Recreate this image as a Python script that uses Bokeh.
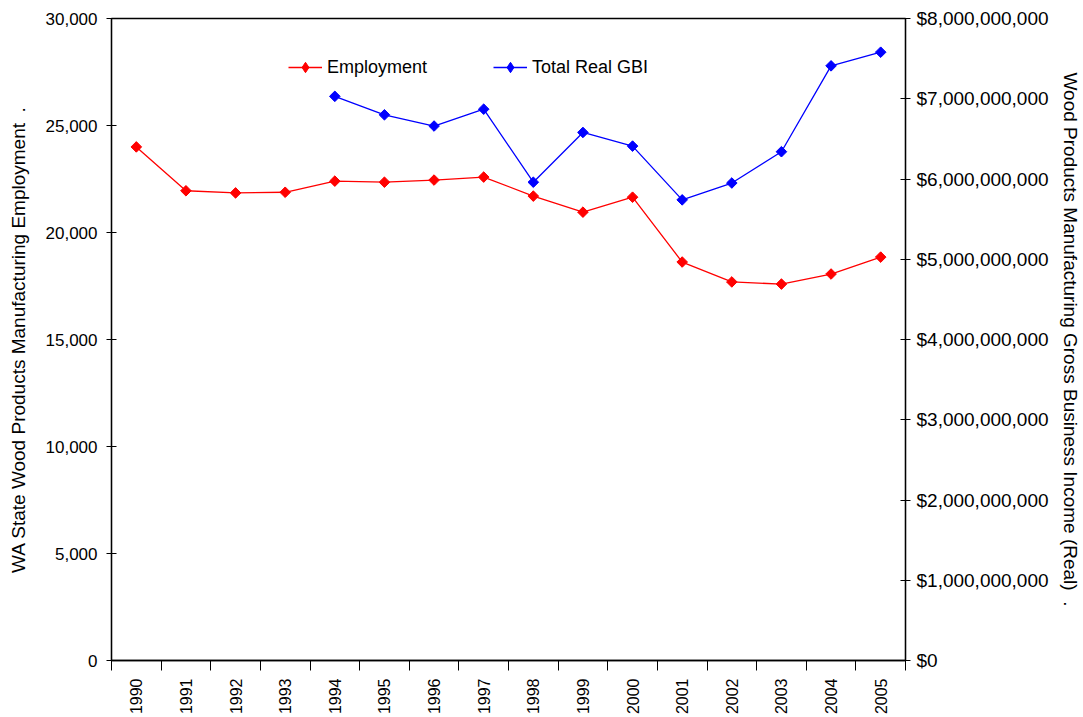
from bokeh.plotting import figure
from bokeh.models import (Range1d, LinearAxis, FixedTicker, NumeralTickFormatter,
                          Legend, LegendItem, ColumnDataSource)
from bokeh.embed import file_html
from bokeh.resources import INLINE
import math

years = ["1990", "1991", "1992", "1993", "1994", "1995", "1996", "1997",
         "1998", "1999", "2000", "2001", "2002", "2003", "2004", "2005"]
employment = [24000, 21950, 21850, 21880, 22400, 22350, 22450, 22590,
              21700, 20950, 21650, 18620, 17690, 17590, 18060, 18850]
gbi_years = ["1994", "1995", "1996", "1997", "1998", "1999", "2000", "2001",
             "2002", "2003", "2004", "2005"]
gbi = [7.03e9, 6.80e9, 6.66e9, 6.87e9, 5.96e9, 6.58e9, 6.41e9, 5.74e9,
       5.95e9, 6.34e9, 7.41e9, 7.58e9]

left_ticks = [0, 5000, 10000, 15000, 20000, 25000, 30000]
right_ticks = [0, 1e9, 2e9, 3e9, 4e9, 5e9, 6e9, 7e9, 8e9]

FONT = "Liberation Sans"

p = figure(width=1083, height=717, output_backend="svg", toolbar_location=None,
           x_range=Range1d(0, len(years)), y_range=Range1d(0, 30000),
           min_border_left=111, min_border_right=176, min_border_top=18,
           min_border_bottom=56)
p.extra_y_ranges = {"gbi": Range1d(0, 8e9)}
p.xgrid.visible = False
p.ygrid.visible = False
p.outline_line_color = "black"
p.outline_line_width = 1.3
p.background_fill_color = "white"
p.border_fill_color = "white"

emp_x = [years.index(y) + 0.5 for y in years]
gbi_x = [years.index(y) + 0.5 for y in gbi_years]

src_e = ColumnDataSource(dict(x=emp_x, y=employment))
src_g = ColumnDataSource(dict(x=gbi_x, y=gbi))

l1 = p.line("x", "y", source=src_e, line_color="#ff0000", line_width=1.3)
l2 = p.line("x", "y", source=src_g, line_color="#0000ff", line_width=1.3,
            y_range_name="gbi")
# diamonds (used for the legend glyph; hidden under the rotated squares)
d1 = p.scatter("x", "y", source=src_e, marker="diamond", size=9,
               fill_color="#ff0000", line_color="#ff0000")
d2 = p.scatter("x", "y", source=src_g, marker="diamond", size=9,
               fill_color="#0000ff", line_color="#0000ff", y_range_name="gbi")
m1 = p.scatter("x", "y", source=src_e, marker="square", size=7.5, angle=math.pi / 4,
               fill_color="#ff0000", line_color="#ff0000")
m2 = p.scatter("x", "y", source=src_g, marker="square", size=7.5, angle=math.pi / 4,
               fill_color="#0000ff", line_color="#0000ff", y_range_name="gbi")

# x axis
xa = p.xaxis[0]
centers = [i + 0.5 for i in range(len(years))]
xa.ticker = FixedTicker(ticks=centers, minor_ticks=list(range(len(years) + 1)))
xa.major_label_overrides = {c: y for c, y in zip(centers, years)}
xa.major_label_orientation = math.pi / 2
xa.major_tick_line_color = None
xa.major_tick_in = 0
xa.major_tick_out = 0
xa.minor_tick_in = 0
xa.minor_tick_out = 10
xa.minor_tick_line_color = "black"
xa.axis_line_color = "black"
xa.axis_line_width = 1.3
xa.major_label_text_font = FONT
xa.major_label_text_font_size = "16px"
xa.major_label_text_color = "black"
xa.major_label_standoff = 8

# left axis
ya = p.yaxis[0]
ya.ticker = FixedTicker(ticks=left_ticks)
ya.formatter = NumeralTickFormatter(format="0,0")
ya.minor_tick_line_color = None
ya.major_tick_in = 5
ya.major_tick_out = 5
ya.axis_line_width = 1.3
ya.major_label_text_font = FONT
ya.major_label_text_font_size = "17px"
ya.major_label_text_color = "black"
ya.major_label_standoff = 9
ya.axis_label = "WA State Wood Products Manufacturing Employment\u00a0\u00a0."
ya.axis_label_text_font = FONT
ya.axis_label_text_font_size = "19px"
ya.axis_label_text_font_style = "normal"
ya.axis_label_text_color = "black"
ya.axis_label_standoff = 14

# right axis
ra = LinearAxis(y_range_name="gbi", ticker=FixedTicker(ticks=right_ticks),
                formatter=NumeralTickFormatter(format="$0,0"))
ra.minor_tick_line_color = None
ra.major_tick_in = 5
ra.major_tick_out = 5
ra.axis_line_width = 1.3
ra.major_label_text_font = FONT
ra.major_label_text_font_size = "19px"
ra.major_label_text_color = "black"
ra.major_label_standoff = 6
ra.axis_label = "Wood Products Manufacturing Gross Business Income (Real)\u00a0\u00a0."
ra.axis_label_text_font = FONT
ra.axis_label_text_font_size = "19px"
ra.axis_label_text_font_style = "normal"
ra.axis_label_text_color = "black"
ra.axis_label_standoff = 8
p.add_layout(ra, "right")

legend = Legend(items=[LegendItem(label="Employment", renderers=[l1, d1]),
                       LegendItem(label="Total Real GBI", renderers=[l2, d2])],
                orientation="horizontal", location=(177, 580),
                border_line_color=None, background_fill_alpha=0,
                padding=0, margin=0, spacing=66, glyph_width=34,
                glyph_height=26, label_height=26,
                label_standoff=5, label_text_font=FONT,
                label_text_font_size="18px", label_text_color="black")
p.add_layout(legend, "center")

open("out.html", "w").write(file_html(p, INLINE))
